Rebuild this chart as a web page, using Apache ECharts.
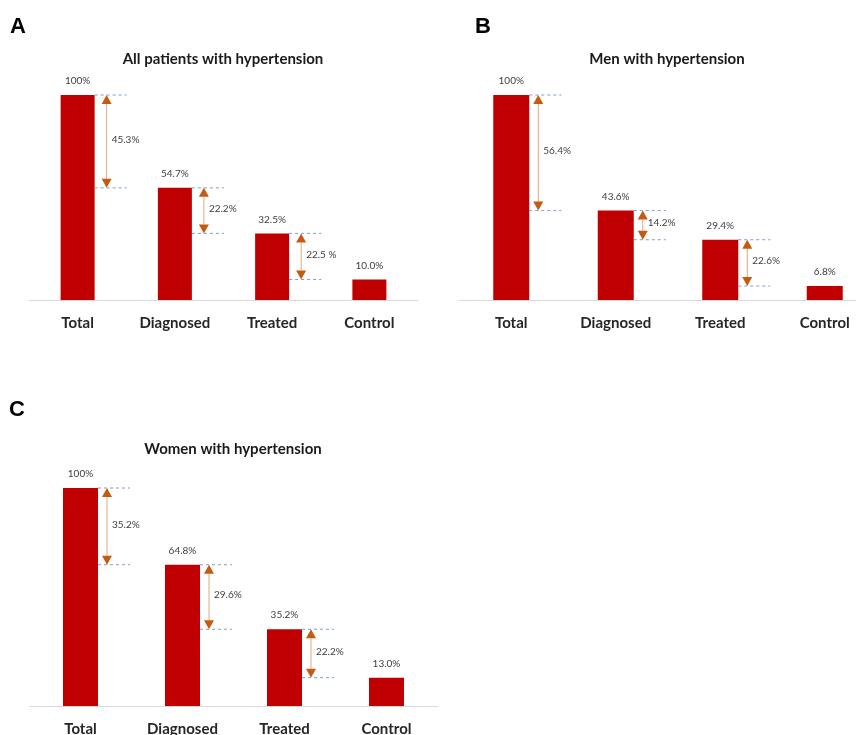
<!DOCTYPE html>
<html>
<head>
<meta charset="utf-8">
<script src="https://cdn.jsdelivr.net/npm/echarts@6/dist/echarts.min.js"></script>
<style>
  html, body { margin: 0; padding: 0; background: #fff; }
  #main { width: 856px; height: 735px; }
</style>
</head>
<body>
<div id="main"></div>
<script>
// data
var categories = ['Total', 'Diagnosed', 'Treated', 'Control'];

var valuesA = [100, 54.7, 32.5, 10.0];
var labelsA = ['100%', '54.7%', '32.5%', '10.0%'];
var dropsA = ['45.3%', '22.2%', '22.5 %'];

var valuesB = [100, 43.6, 29.4, 6.8];
var labelsB = ['100%', '43.6%', '29.4%', '6.8%'];
var dropsB = ['56.4%', '14.2%', '22.6%'];

var valuesC = [100, 64.8, 35.2, 13.0];
var labelsC = ['100%', '64.8%', '35.2%', '13.0%'];
var dropsC = ['35.2%', '29.6%', '22.2%'];

var FONT = 'Lato';
var BAR = '#C00000';
var ARROW = '#C55A11';

var dom = document.getElementById('main');
var myChart = echarts.init(dom, null, { renderer: 'canvas' });

// pairs [category index, top value, next value] for the drop arrows
function stepData(values) {
    return values.slice(0, values.length - 1).map(function (v, i) {
        return [i, v, values[i + 1]];
    });
}

function makeStep(barW, gap, drops) {
    return function (params, api) {
        var top = api.coord([api.value(0), api.value(1)]);
        var bot = api.coord([api.value(0), api.value(2)]);
        var x0 = top[0] + barW / 2;
        var ax = x0 + gap;
        var head = 9;
        return {
            type: 'group',
            children: [
                { type: 'line', shape: { x1: x0, y1: top[1], x2: x0 + 32, y2: top[1] },
                  style: { stroke: '#7F9BD0', lineWidth: 1, lineDash: [3, 3] } },
                { type: 'line', shape: { x1: x0, y1: bot[1], x2: x0 + 32, y2: bot[1] },
                  style: { stroke: '#7F9BD0', lineWidth: 1, lineDash: [3, 3] } },
                { type: 'line', shape: { x1: ax, y1: top[1] + head, x2: ax, y2: bot[1] - head },
                  style: { stroke: '#E3A77C', lineWidth: 1 } },
                { type: 'polygon', shape: { points: [[ax, top[1]], [ax - 5, top[1] + head], [ax + 5, top[1] + head]] },
                  style: { fill: ARROW } },
                { type: 'polygon', shape: { points: [[ax, bot[1]], [ax - 5, bot[1] - head], [ax + 5, bot[1] - head]] },
                  style: { fill: ARROW } },
                { type: 'text', x: ax + 5, y: (top[1] + bot[1]) / 2 - 2,
                  style: { text: drops[params.dataIndex], fontFamily: FONT, fontSize: 10,
                           fill: '#404040', verticalAlign: 'middle' } }
            ]
        };
    };
}

function xAxisFor(gridIndex) {
    return {
        type: 'category',
        gridIndex: gridIndex,
        data: categories,
        axisLine: { lineStyle: { color: '#D9D9D9', width: 1 } },
        axisTick: { show: false },
        axisLabel: { margin: 16, fontFamily: FONT, fontSize: 15, fontWeight: 'bold', color: '#262626' }
    };
}

function yAxisFor(gridIndex) {
    return { type: 'value', gridIndex: gridIndex, min: 0, max: 100, show: false, splitLine: { show: false } };
}

function barFor(idx, values, labels, barW) {
    return {
        type: 'bar',
        xAxisIndex: idx,
        yAxisIndex: idx,
        data: values,
        barWidth: barW,
        itemStyle: { color: BAR },
        label: {
            show: true, position: 'top', distance: 9,
            fontFamily: FONT, fontSize: 10, color: '#404040',
            formatter: function (p) { return labels[p.dataIndex]; }
        },
        silent: true
    };
}

function stepFor(idx, values, drops, barW, gap) {
    return {
        type: 'custom',
        coordinateSystem: 'cartesian2d',
        xAxisIndex: idx,
        yAxisIndex: idx,
        data: stepData(values),
        renderItem: makeStep(barW, gap, drops),
        z: 5,
        silent: true
    };
}

function titleAt(text, cx, top, size) {
    return { text: text, left: cx, top: top, textAlign: 'center', padding: 0,
             textStyle: { fontFamily: FONT, fontSize: size, fontWeight: 'bold', color: '#1a1a1a' } };
}

function letterAt(text, left, top) {
    return { text: text, left: left, top: top, padding: 0,
             textStyle: { fontFamily: 'Liberation Sans', fontSize: 22, fontWeight: 'bold', color: '#000' } };
}

var option = {
    animation: false,
    title: [
        letterAt('A', 10, 16),
        letterAt('B', 475, 16),
        letterAt('C', 9, 399),
        titleAt('All patients with hypertension', 223, 52, 15),
        titleAt('Men with hypertension', 667, 52, 15),
        titleAt('Women with hypertension', 233, 442, 15)
    ],
    grid: [
        { left: 29, top: 95, width: 389, height: 205, outerBoundsMode: 'none' },
        { left: 459, top: 95, width: 418, height: 205, outerBoundsMode: 'none' },
        { left: 29.5, top: 488, width: 408, height: 218, outerBoundsMode: 'none' }
    ],
    xAxis: [xAxisFor(0), xAxisFor(1), xAxisFor(2)],
    yAxis: [yAxisFor(0), yAxisFor(1), yAxisFor(2)],
    series: [
        barFor(0, valuesA, labelsA, 34),
        barFor(1, valuesB, labelsB, 36),
        barFor(2, valuesC, labelsC, 35),
        stepFor(0, valuesA, dropsA, 34, 12),
        stepFor(1, valuesB, dropsB, 36, 9),
        stepFor(2, valuesC, dropsC, 35, 9)
    ]
};

myChart.setOption(option);
window.addEventListener('resize', myChart.resize);
</script>
</body>
</html>
